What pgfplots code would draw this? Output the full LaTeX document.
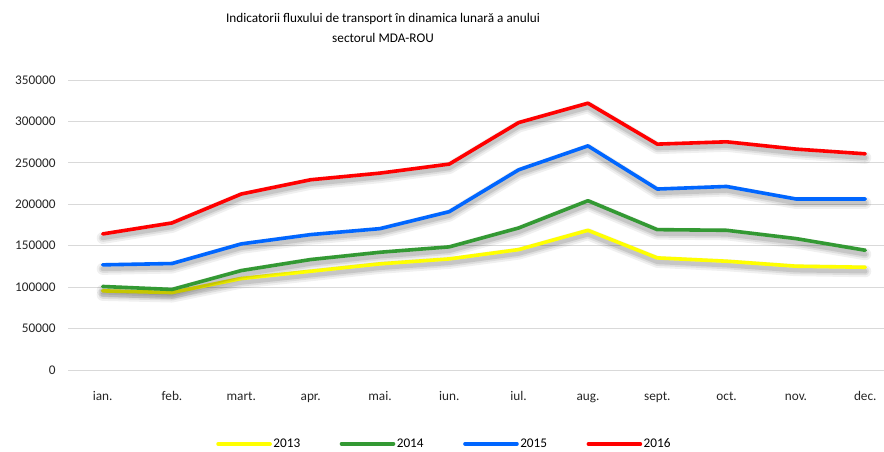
\documentclass[border=0pt]{standalone}
\usepackage{pgfplots}
\pgfplotsset{compat=1.18}
\usepackage{fontspec}
\setmainfont{Carlito}
\definecolor{c13}{RGB}{255,255,0}
\definecolor{c14}{RGB}{51,153,51}
\definecolor{c15}{RGB}{0,102,255}
\definecolor{c16}{RGB}{255,0,0}
\pgfplotstableread{
x  y13    y14    y15    y16
0  95500  100800 126900 164200
1  93500  97200  128500 177500
2  110400 120000 152200 212400
3  119200 133300 163400 229600
4  128100 142100 170600 237600
5  134100 148600 191100 248500
6  145300 171400 241600 298600
7  168600 204300 270500 322000
8  135300 169400 218400 272600
9  131300 168600 221500 275400
10 125300 158600 206400 266600
11 124000 144500 206400 260900
}\data
\begin{document}
\begin{tikzpicture}[font=\fontsize{13.3}{20}\selectfont]
\begin{axis}[
  at={(68bp,82bp)}, anchor=south west,
  scale only axis, width=816bp, height=290bp,
  xmin=-0.5, xmax=11.27, ymin=0, ymax=350000,
  axis line style={draw=none}, tick style={draw=none},
  ymajorgrids, grid style={color=black!15, line width=1bp},
  xtick={0,...,11},
  xticklabels={ian.,feb.,mart.,apr.,mai.,iun.,iul.,aug.,sept.,oct.,nov.,dec.},
  ytick={0,50000,...,350000},
  scaled y ticks=false,
  /pgf/number format/assume math mode=true,
  yticklabel style={/pgf/number format/fixed, /pgf/number format/1000 sep={}, xshift=-9bp, text=black!85},
  xticklabel style={text height=9bp, text depth=3bp, yshift=-18bp, text=black!85},
  legend columns=4,
  legend style={at={(0.461,-0.255)}, anchor=center, draw=none, fill=none, inner sep=0pt,
    nodes={inner sep=1.5bp},
    /tikz/every even column/.append style={column sep=38bp}},
  legend image code/.code={\draw[#1] (0bp,0bp) -- (52bp,0bp);},
  every axis plot/.append style={line join=round, line cap=round},
  shA/.style={forget plot, draw=black, opacity=0.06, line width=12bp, yshift=-4bp},
  shB/.style={forget plot, draw=black, opacity=0.08, line width=8bp, yshift=-4bp},
  shC/.style={forget plot, draw=black, opacity=0.10, line width=4.5bp, yshift=-4bp},
  series/.style={draw=#1, line width=3.6bp},
]
\addplot[shA] table[x=x,y=y13] {\data};
\addplot[shB] table[x=x,y=y13] {\data};
\addplot[shC] table[x=x,y=y13] {\data};
\addplot[series=c13] table[x=x,y=y13] {\data};
\addplot[shA] table[x=x,y=y14] {\data};
\addplot[shB] table[x=x,y=y14] {\data};
\addplot[shC] table[x=x,y=y14] {\data};
\addplot[series=c14] table[x=x,y=y14] {\data};
\addplot[shA] table[x=x,y=y15] {\data};
\addplot[shB] table[x=x,y=y15] {\data};
\addplot[shC] table[x=x,y=y15] {\data};
\addplot[series=c15] table[x=x,y=y15] {\data};
\addplot[shA] table[x=x,y=y16] {\data};
\addplot[shB] table[x=x,y=y16] {\data};
\addplot[shC] table[x=x,y=y16] {\data};
\addplot[series=c16] table[x=x,y=y16] {\data};
\legend{2013,2014,2015,2016}
\end{axis}
\node[align=center] at (383bp,424bp) {Indicatorii fluxului de transport în dinamica lunară a anului\\sectorul MDA-ROU};
\pgfresetboundingbox
\path[use as bounding box] (0bp,0bp) rectangle (884bp,452bp);
\end{tikzpicture}
\end{document}
